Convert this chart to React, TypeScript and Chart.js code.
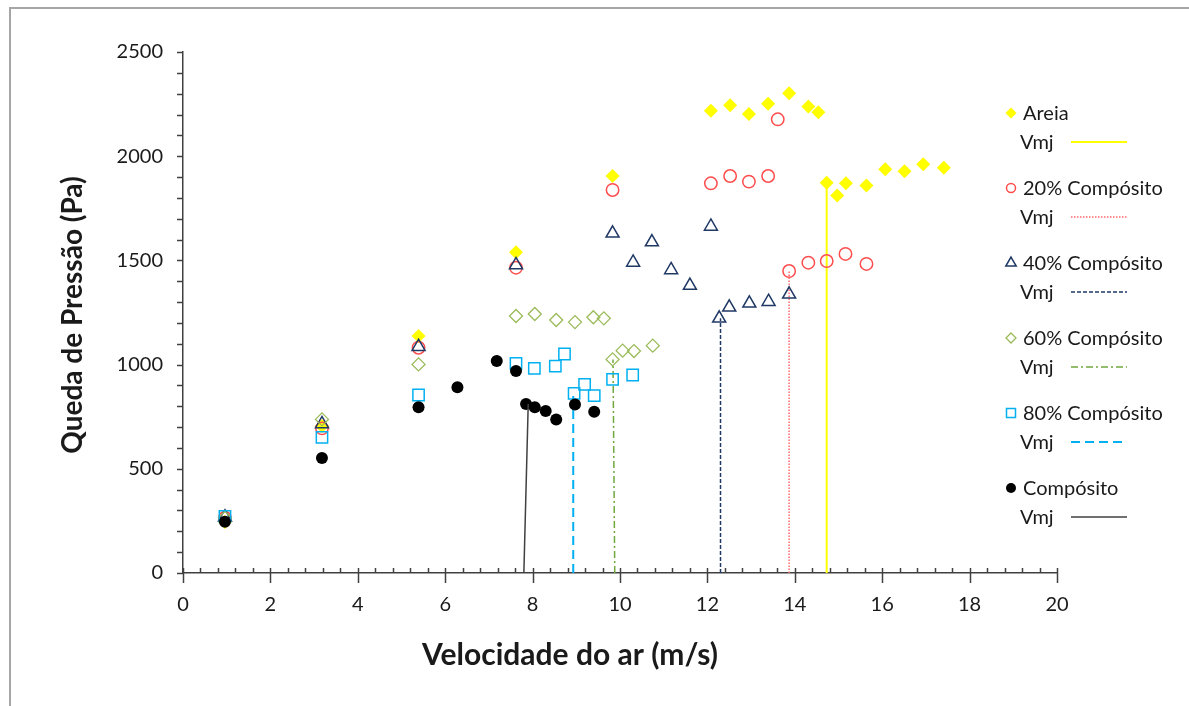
import React, { useEffect, useRef } from 'react';
import { Chart, registerables } from 'chart.js';

Chart.register(...registerables);

// ---------- axis definitions ----------
const xMin = 0;
const xMax = 20;
const yMin = 0;
const yMax = 2500;
const xMajorStep = 2;
const xMinorStep = 0.4;
const yMajorStep = 500;
const yMinorStep = 100;

const xAxisTitle = 'Velocidade do ar (m/s)';
const yAxisTitle = 'Queda de Pressão (Pa)';

const seriesNames = ['Areia', '20% Compósito', '40% Compósito', '60% Compósito', '80% Compósito', 'Compósito'];
const vmjLabel = 'Vmj';

// ---------- data ----------
const areiaX = [0.96, 3.18, 5.39, 7.62, 9.83, 12.08, 12.52, 12.95, 13.39, 13.87, 14.31, 14.54, 14.73, 14.97, 15.17, 15.64, 16.07, 16.51, 16.94, 17.41];
const areiaY = [245, 705, 1137, 1539, 1905, 2218, 2244, 2202, 2252, 2302, 2238, 2211, 1873, 1812, 1870, 1860, 1937, 1928, 1961, 1945];
const vmjAreiaX = [14.73, 14.73];
const vmjAreiaY = [0, 1873];

const comp20X = [0.96, 3.18, 5.39, 7.62, 9.83, 12.08, 12.52, 12.95, 13.39, 13.61, 13.87, 14.31, 14.73, 15.16, 15.64];
const comp20Y = [265, 694, 1081, 1465, 1838, 1870, 1905, 1878, 1905, 2177, 1449, 1489, 1497, 1531, 1483];
const vmj20X = [13.87, 13.87];
const vmj20Y = [0, 1449];

const comp40X = [0.96, 3.18, 5.39, 7.62, 9.83, 10.3, 10.73, 11.17, 11.6, 12.08, 12.27, 12.5, 12.96, 13.4, 13.87];
const comp40Y = [268, 715, 1086, 1478, 1630, 1490, 1588, 1454, 1379, 1663, 1222, 1275, 1294, 1302, 1337];
const vmj40X = [12.3, 12.3];
const vmj40Y = [0, 1222];

const comp60X = [0.96, 3.18, 5.39, 7.62, 8.05, 8.54, 8.97, 9.39, 9.63, 9.83, 10.06, 10.32, 10.75];
const comp60Y = [265, 737, 1001, 1233, 1243, 1214, 1204, 1227, 1222, 1025, 1067, 1065, 1091];
const vmj60X = [9.88, 9.84];
const vmj60Y = [0, 1025];

const comp80X = [0.96, 3.18, 5.39, 7.62, 8.04, 8.52, 8.73, 8.95, 9.19, 9.41, 9.83, 10.29];
const comp80Y = [272, 651, 854, 1006, 982, 993, 1051, 862, 905, 851, 929, 950];
const vmj80X = [8.93, 8.93];
const vmj80Y = [0, 862];

const compX = [0.96, 3.18, 5.39, 6.28, 7.18, 7.62, 7.85, 8.05, 8.3, 8.54, 8.97, 9.41];
const compY = [246, 552, 795, 891, 1017, 969, 811, 795, 777, 737, 809, 774];
const vmjCompX = [7.8, 7.9];
const vmjCompY = [0, 811];

const seriesX = [areiaX, comp20X, comp40X, comp60X, comp80X, compX];
const seriesY = [areiaY, comp20Y, comp40Y, comp60Y, comp80Y, compY];
const vmjX = [vmjAreiaX, vmj20X, vmj40X, vmj60X, vmj80X, vmjCompX];
const vmjY = [vmjAreiaY, vmj20Y, vmj40Y, vmj60Y, vmj80Y, vmjCompY];

// ---------- styles ----------
const FONT = 'Lato, "Open Sans", sans-serif';
const TEXT_COLOR = '#1a1a1a';
const AXIS_COLOR = '#404040';

type Style = {
  shape: string;
  color: string;
  filled: boolean;
  radius: number;
  markerWidth: number;
  legendRadius: number;
  lineColor: string;
  lineDash: number[];
  lineWidth: number;
};

const seriesStyles: Style[] = [
  { shape: 'rectRot', color: '#FFFF00', filled: true, radius: 7, markerWidth: 0, legendRadius: 5.5, lineColor: '#FFFF00', lineDash: [], lineWidth: 2 },
  { shape: 'circle', color: '#FF4D4D', filled: false, radius: 6.2, markerWidth: 1.5, legendRadius: 4.5, lineColor: '#FF6B6B', lineDash: [1.5, 1.5], lineWidth: 1.5 },
  { shape: 'triangle', color: '#1F3864', filled: false, radius: 7.5, markerWidth: 1.5, legendRadius: 6, lineColor: '#1F3864', lineDash: [4, 2], lineWidth: 1.5 },
  { shape: 'rectRot', color: '#9BBB59', filled: false, radius: 6.5, markerWidth: 1.3, legendRadius: 5, lineColor: '#70A83E', lineDash: [7, 3, 2, 3], lineWidth: 1.5 },
  { shape: 'rect', color: '#00B0F0', filled: false, radius: 8, markerWidth: 1.5, legendRadius: 6, lineColor: '#00B0F0', lineDash: [9, 5], lineWidth: 2 },
  { shape: 'circle', color: '#000000', filled: true, radius: 6, markerWidth: 0, legendRadius: 5, lineColor: '#404040', lineDash: [], lineWidth: 1.5 },
];

const toPoints = (xs: number[], ys: number[]) => xs.map((x, i) => ({ x, y: ys[i] }));

function drawMarker(ctx: CanvasRenderingContext2D, s: Style, x: number, y: number, r: number) {
  ctx.beginPath();
  if (s.shape === 'rectRot') {
    ctx.moveTo(x - r, y);
    ctx.lineTo(x, y - r);
    ctx.lineTo(x + r, y);
    ctx.lineTo(x, y + r);
    ctx.closePath();
  } else if (s.shape === 'circle') {
    ctx.arc(x, y, r, 0, Math.PI * 2);
  } else if (s.shape === 'triangle') {
    ctx.moveTo(x, y - r);
    ctx.lineTo(x + r * 0.866, y + r * 0.5);
    ctx.lineTo(x - r * 0.866, y + r * 0.5);
    ctx.closePath();
  } else {
    const h = r * 0.75;
    ctx.rect(x - h, y - h, 2 * h, 2 * h);
  }
  if (s.filled) {
    ctx.fillStyle = s.color;
    ctx.fill();
  } else {
    ctx.lineWidth = s.markerWidth;
    ctx.strokeStyle = s.color;
    ctx.stroke();
  }
}

const decorPlugin = {
  id: 'decor',
  afterDraw(chart: any) {
    const ctx: CanvasRenderingContext2D = chart.ctx;
    const xs = chart.scales.x;
    const ys = chart.scales.y;
    const area = chart.chartArea;
    ctx.save();
    ctx.strokeStyle = AXIS_COLOR;
    ctx.lineWidth = 1.5;
    ctx.setLineDash([]);
    // y ticks (outside)
    for (let v = yMin; v <= yMax + 1e-6; v += yMinorStep) {
      const py = Math.round(ys.getPixelForValue(v)) + 0.5;
      ctx.beginPath();
      ctx.moveTo(area.left - 6, py);
      ctx.lineTo(area.left, py);
      ctx.stroke();
    }
    // x ticks: major cross, minor inside
    const nMinor = Math.round((xMax - xMin) / xMinorStep);
    const perMajor = Math.round(xMajorStep / xMinorStep);
    for (let i = 0; i <= nMinor; i++) {
      const v = xMin + i * xMinorStep;
      const px = Math.round(xs.getPixelForValue(v)) + 0.5;
      ctx.beginPath();
      if (i % perMajor === 0) {
        ctx.moveTo(px, area.bottom - 5);
        ctx.lineTo(px, area.bottom + 10);
      } else {
        ctx.moveTo(px, area.bottom - 5);
        ctx.lineTo(px, area.bottom);
      }
      ctx.stroke();
    }
    // axis titles
    ctx.fillStyle = TEXT_COLOR;
    ctx.textAlign = 'center';
    ctx.textBaseline = 'middle';
    ctx.font = `bold 30px ${FONT}`;
    ctx.fillText(xAxisTitle, 570, 655);
    ctx.save();
    ctx.translate(73, 315);
    ctx.rotate(-Math.PI / 2);
    ctx.font = `bold 28px ${FONT}`;
    ctx.fillText(yAxisTitle, 0, 0);
    ctx.restore();

    // legend
    ctx.font = `20px ${FONT}`;
    ctx.textAlign = 'left';
    for (let k = 0; k < seriesNames.length; k++) {
      const s = seriesStyles[k];
      const yMark = 113 + 75 * k;
      const yVmj = yMark + 29;
      drawMarker(ctx, s, 1011, yMark, s.legendRadius);
      ctx.fillStyle = TEXT_COLOR;
      ctx.fillText(seriesNames[k], 1023, yMark + 1);
      ctx.fillText(vmjLabel, 1020, yVmj + 1);
      ctx.beginPath();
      ctx.setLineDash(s.lineDash);
      ctx.strokeStyle = s.lineColor;
      ctx.lineWidth = s.lineWidth;
      ctx.moveTo(1071, yVmj);
      ctx.lineTo(1127, yVmj);
      ctx.stroke();
      ctx.setLineDash([]);
    }
    ctx.restore();
  },
};

export default function App() {
  const canvasRef = useRef<HTMLCanvasElement | null>(null);

  useEffect(() => {
    if (!canvasRef.current) return;
    const datasets: any[] = [];
    const n = seriesNames.length * 2;
    for (let k = 0; k < seriesNames.length; k++) {
      const s = seriesStyles[k];
      datasets.push({
        label: seriesNames[k],
        data: toPoints(seriesX[k], seriesY[k]),
        showLine: false,
        pointStyle: s.shape,
        pointRadius: s.radius,
        pointHoverRadius: s.radius,
        pointBackgroundColor: s.filled ? s.color : 'rgba(0,0,0,0)',
        pointBorderColor: s.color,
        pointBorderWidth: s.markerWidth,
        order: n - 2 * k,
      });
      datasets.push({
        label: vmjLabel,
        data: toPoints(vmjX[k], vmjY[k]),
        showLine: true,
        pointRadius: 0,
        pointHoverRadius: 0,
        borderColor: s.lineColor,
        borderWidth: s.lineWidth,
        borderDash: s.lineDash,
        fill: false,
        order: n - 2 * k - 1,
      });
    }

    const chart = new Chart(canvasRef.current, {
      type: 'scatter',
      data: { datasets },
      plugins: [decorPlugin],
      options: {
        animation: false,
        responsive: true,
        maintainAspectRatio: false,
        layout: { padding: { left: 0, top: 52, right: 132, bottom: 0 } },
        plugins: {
          legend: { display: false },
          tooltip: { enabled: false },
        },
        scales: {
          x: {
            type: 'linear',
            min: xMin,
            max: xMax,
            grid: { display: false, drawTicks: false },
            border: { display: true, color: AXIS_COLOR, width: 1.5 },
            ticks: {
              stepSize: xMajorStep,
              padding: 20,
              color: TEXT_COLOR,
              font: { family: FONT, size: 20 },
              maxRotation: 0,
              callback: (v: any) => String(v),
            },
            afterFit: (s: any) => {
              s.height = 133;
            },
          },
          y: {
            type: 'linear',
            min: yMin,
            max: yMax,
            grid: { display: false, drawTicks: false },
            border: { display: true, color: AXIS_COLOR, width: 1.5 },
            ticks: {
              stepSize: yMajorStep,
              padding: 20,
              color: TEXT_COLOR,
              font: { family: FONT, size: 20 },
              callback: (v: any) => String(v),
            },
            afterFit: (s: any) => {
              s.width = 183;
            },
          },
        },
      },
    });
    return () => chart.destroy();
  }, []);

  return (
    <div style={{ position: 'absolute', left: 0, top: 0, width: 1189, height: 706, overflow: 'hidden', background: '#fff' }}>
      <div
        style={{
          position: 'absolute',
          left: 9,
          top: 7,
          width: 1400,
          height: 900,
          border: '2px solid #a6a6a6',
          boxSizing: 'border-box',
        }}
      />
      <div style={{ position: 'absolute', left: 0, top: 0, width: 1189, height: 706 }}>
        <canvas ref={canvasRef} style={{ display: 'block' }} />
      </div>
    </div>
  );
}
